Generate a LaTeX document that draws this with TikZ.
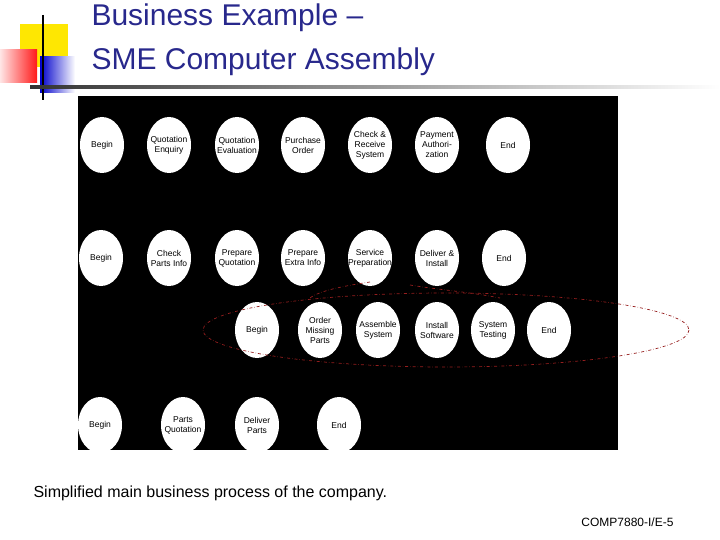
\documentclass[tikz,border=0pt]{standalone}
\usepackage{fontspec}
\setmainfont{Liberation Sans}
\definecolor{navy}{RGB}{40,40,140}
\definecolor{dred}{RGB}{150,30,30}
\tikzset{
 proc/.style={align=center,font=\fontsize{8.5}{10}\selectfont,inner sep=0pt},
 group/.style={draw=dred,dash dot,line width=0.7pt}
}
\newcommand{\proceed}[4]{\fill[white] (#2,#3) ellipse (22 and 28); \node[proc] (#1) at (#2,#3) {#4};}
\begin{document}
\begin{tikzpicture}[x=1pt,y=-1pt]
\useasboundingbox (0,0) rectangle (720,540);
% logo
\fill[yellow!90!orange] (20,24) rectangle (68,67);
\shade[left color=red!10,right color=red!90] (0,50) rectangle (37,83);
\shade[left color=blue!80!black,right color=white] (40,57) rectangle (75,93);
\draw[line width=1.5pt] (43,15) -- (43,100);
\shade[left color=black!80,right color=white] (30,86) rectangle (720,89);
\node[anchor=west,text=navy,font=\fontsize{30}{44}\selectfont,align=left] (title) at (88,40) {Business Example --\\SME Computer Assembly};
% black area
\fill[black] (78,96) rectangle (618,450);
\foreach \n/\x/\t in {a1/102/Begin,a2/169/{Quotation\\Enquiry},a3/237/{Quotation\\Evaluation},a4/303/{Purchase\\Order},a5/370/{Check \&\\Receive\\System},a6/437/{Payment\\Authori-\\zation},a7/508/End}
  {\proceed{\n}{\x}{145}{\t}}
\foreach \n/\x/\t in {b1/101/Begin,b2/169/{Check\\Parts Info},b3/237/{Prepare\\Quotation},b4/303/{Prepare\\Extra Info},b5/370/{Service\\Preparation},b6/437/{Deliver \&\\Install},b7/504/End}
  {\proceed{\n}{\x}{258}{\t}}
\foreach \n/\x/\t in {c1/257/Begin,c2/320/{Order\\Missing\\Parts},c3/378/{Assemble\\System},c4/437/{Install\\Software},c5/493/{System\\Testing},c6/549/End}
  {\proceed{\n}{\x}{330}{\t}}
\foreach \n/\x/\t in {d1/100/Begin,d2/183/{Parts\\Quotation},d3/257/{Deliver\\Parts},d4/339/End}
  {\proceed{\n}{\x}{425}{\t}}
% group
\draw[group] (446,330) ellipse (243 and 37);
\draw[group] (370,282) .. controls (350,285) and (320,290) .. (310,298);
\draw[group] (410,285) .. controls (440,290) and (470,292) .. (500,298);
% caption
\node[anchor=west,font=\fontsize{16}{18}\selectfont] (cap) at (30,493) {Simplified main business process of the company.};
\node[anchor=east,font=\fontsize{12}{14}\selectfont] (ref) at (677,522) {COMP7880-I/E-5};
\end{tikzpicture}
\end{document}
